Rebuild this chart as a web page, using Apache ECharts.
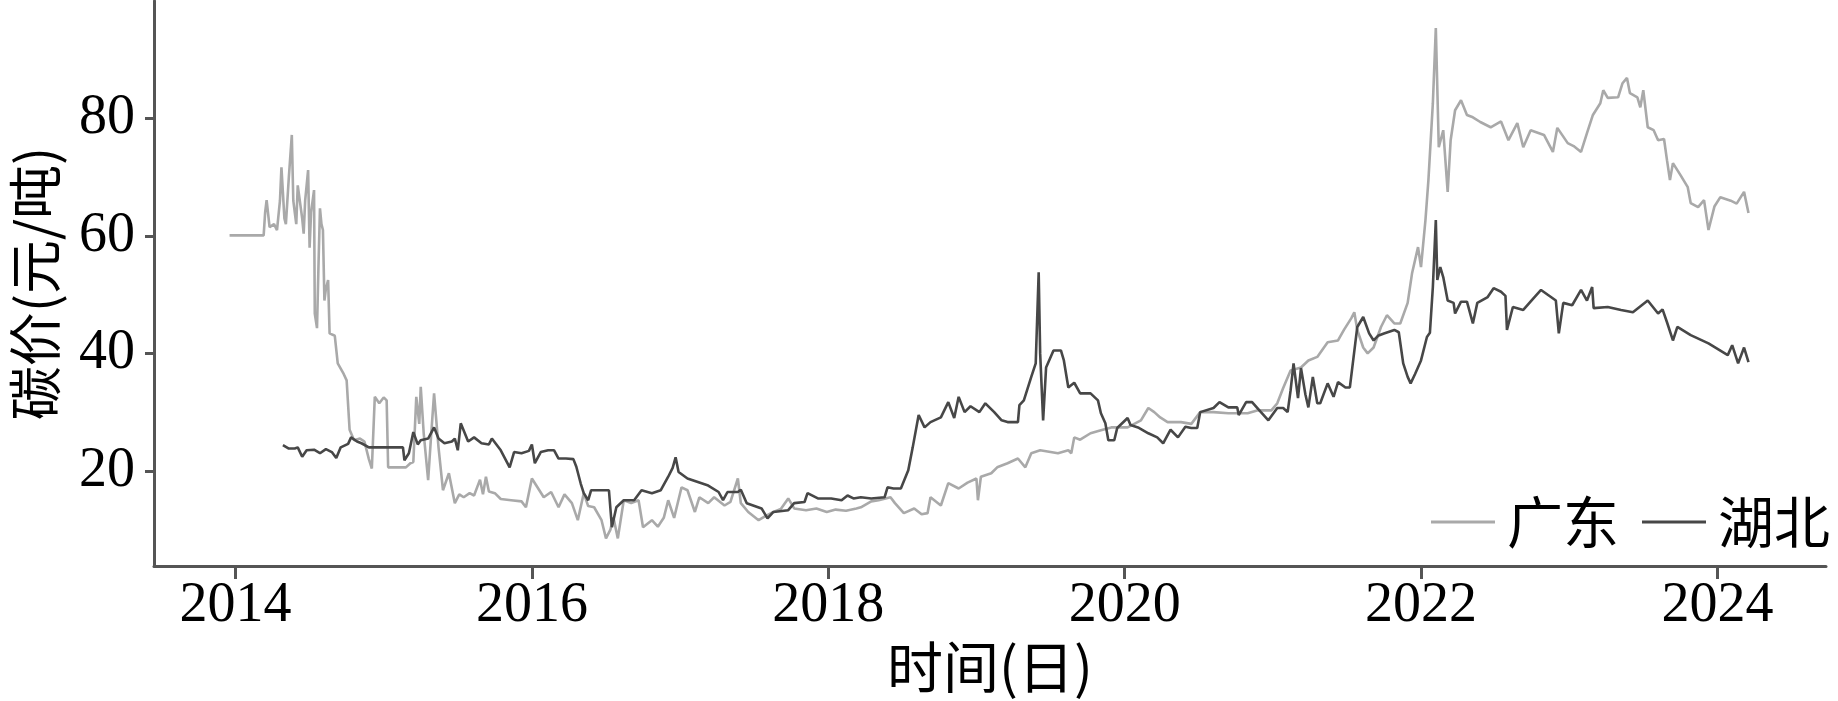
<!DOCTYPE html>
<html>
<head>
<meta charset="utf-8">
<script src="https://cdn.jsdelivr.net/npm/echarts@6/dist/echarts.min.js"></script>
<style>
html,body{margin:0;padding:0;background:#fff;}
#chart{width:1838px;height:701px;}
</style>
</head>
<body>
<div id="chart"></div>
<script>
// x positions are decimal years
const xTicks = [2014, 2016, 2018, 2020, 2022, 2024];
const yTicks = [20, 40, 60, 80];
const seriesNames = ['广东', '湖北'];

const gdTime = [2013.96,2014.19,2014.20,2014.21,2014.23,2014.26,2014.28,2014.30,2014.31,2014.33,2014.34,2014.36,2014.38,2014.39,2014.41,2014.42,2014.45,2014.46,2014.47,2014.49,2014.50,2014.51,2014.53,2014.535,2014.55,2014.56,2014.57,2014.58,2014.59,2014.60,2014.61,2014.625,2014.635,2014.67,2014.69,2014.73,2014.75,2014.77,2014.80,2014.84,2014.87,2014.90,2014.92,2014.94,2014.97,2015.00,2015.02,2015.03,2015.09,2015.15,2015.18,2015.20,2015.22,2015.24,2015.25,2015.27,2015.30,2015.32,2015.34,2015.37,2015.40,2015.44,2015.48,2015.51,2015.54,2015.58,2015.61,2015.65,2015.67,2015.69,2015.71,2015.75,2015.79,2015.86,2015.93,2015.96,2016.00,2016.03,2016.08,2016.13,2016.18,2016.22,2016.27,2016.31,2016.35,2016.38,2016.42,2016.47,2016.50,2016.53,2016.55,2016.58,2016.62,2016.67,2016.72,2016.75,2016.81,2016.85,2016.89,2016.92,2016.96,2017.01,2017.05,2017.10,2017.13,2017.19,2017.23,2017.30,2017.34,2017.39,2017.41,2017.46,2017.53,2017.57,2017.63,2017.68,2017.73,2017.77,2017.85,2017.92,2017.99,2018.05,2018.12,2018.19,2018.22,2018.29,2018.34,2018.42,2018.45,2018.51,2018.58,2018.63,2018.67,2018.69,2018.76,2018.81,2018.88,2018.94,2019.00,2019.01,2019.03,2019.10,2019.14,2019.21,2019.28,2019.33,2019.37,2019.43,2019.55,2019.62,2019.64,2019.66,2019.70,2019.77,2019.84,2019.91,2020.02,2020.11,2020.16,2020.20,2020.24,2020.29,2020.38,2020.45,2020.51,2020.60,2020.70,2020.83,2020.90,2020.99,2021.03,2021.07,2021.12,2021.19,2021.24,2021.30,2021.37,2021.44,2021.48,2021.53,2021.55,2021.57,2021.61,2021.64,2021.68,2021.73,2021.77,2021.82,2021.86,2021.91,2021.94,2021.98,2022.00,2022.03,2022.05,2022.08,2022.10,2022.12,2022.15,2022.18,2022.20,2022.23,2022.27,2022.31,2022.35,2022.40,2022.47,2022.54,2022.59,2022.65,2022.69,2022.74,2022.83,2022.89,2022.92,2022.99,2023.03,2023.08,2023.12,2023.16,2023.21,2023.23,2023.26,2023.33,2023.36,2023.39,2023.41,2023.46,2023.48,2023.50,2023.53,2023.57,2023.60,2023.64,2023.66,2023.68,2023.70,2023.75,2023.80,2023.82,2023.87,2023.91,2023.94,2023.98,2024.02,2024.09,2024.13,2024.18,2024.21];
const gdPrice = [60.1,60.1,64,66.1,61.5,62,61,66,71.7,63,62,70,77.2,66,62,68.6,63,60.4,66,71.2,58,64,67.8,46.8,44.3,55,64.7,62,61,49,51,52.5,43.4,43,38.3,36.5,35.4,27,25.2,25.5,25,22,20.4,32.6,31.5,32.5,32,20.6,20.6,20.6,21.3,21.5,32.6,28,34.3,26.4,18.4,26,33.2,24,16.7,19.6,14.5,16,15.5,16.2,15.8,18.5,16,19,16.5,16.2,15.2,15,14.8,13.8,18.7,17.5,15.5,16.4,13.8,16,14.5,11.6,16.2,14,13.8,11.6,8.5,10,12.1,8.5,15,14.5,15,10.4,11.6,10.5,12,15,12,17.2,16.7,13,15.5,14.5,15.5,14.1,14.7,18.7,14.5,13,11.6,12.2,13,13.5,15.3,13.6,13.3,13.6,13,13.4,13.2,13.6,13.8,14.8,15,15.5,14.5,12.8,13.6,12.6,12.8,15.5,14.1,17.9,17,18,18.7,15,19,19.6,20.6,21.3,22.1,20.6,23,23.5,23,23.5,23,25.7,25.3,26.4,26.9,27.4,27.4,28.6,30.7,30,29.1,28.3,28.3,28,30,30,29.8,29.8,30.3,30.3,31.5,34.1,37.1,37.6,38.8,39.4,41.9,42.2,44,46,47,44,41,40,41,44.5,46.5,45.1,45.1,48.6,53.7,58.1,54.7,62.7,69.5,82.6,95.4,75.1,78,67.5,76.3,81.4,83.1,80.6,80.2,79.4,78.5,79.5,76.3,79.2,75.1,78,77.2,74.3,78.4,75.8,75.3,74.3,77.5,80.6,82.6,84.8,83.5,83.6,86,86.9,84.3,83.6,81.9,84.8,78.5,78,76.3,76.5,72.9,69.5,72.4,70.4,68.3,65.6,64.9,66.1,61,65,66.6,66,65.5,67.5,63.9];

const hbTime = [2014.32,2014.36,2014.40,2014.42,2014.45,2014.48,2014.53,2014.57,2014.61,2014.65,2014.68,2014.71,2014.76,2014.78,2014.82,2014.85,2014.90,2014.98,2015.09,2015.13,2015.14,2015.17,2015.20,2015.23,2015.25,2015.30,2015.34,2015.37,2015.41,2015.46,2015.48,2015.50,2015.52,2015.57,2015.61,2015.66,2015.71,2015.73,2015.79,2015.85,2015.88,2015.93,2015.98,2016.00,2016.02,2016.06,2016.11,2016.15,2016.18,2016.23,2016.28,2016.30,2016.33,2016.35,2016.38,2016.40,2016.47,2016.52,2016.54,2016.57,2016.62,2016.69,2016.74,2016.81,2016.87,2016.92,2016.95,2016.97,2016.99,2017.05,2017.12,2017.19,2017.26,2017.29,2017.32,2017.39,2017.41,2017.45,2017.55,2017.59,2017.63,2017.73,2017.77,2017.84,2017.86,2017.93,2018.02,2018.09,2018.13,2018.17,2018.22,2018.29,2018.38,2018.40,2018.44,2018.49,2018.54,2018.57,2018.61,2018.65,2018.69,2018.76,2018.81,2018.85,2018.88,2018.92,2018.96,2019.02,2019.06,2019.12,2019.17,2019.21,2019.28,2019.29,2019.32,2019.37,2019.40,2019.42,2019.43,2019.45,2019.47,2019.52,2019.57,2019.59,2019.62,2019.66,2019.70,2019.77,2019.82,2019.84,2019.87,2019.89,2019.93,2019.95,2020.02,2020.04,2020.09,2020.16,2020.22,2020.26,2020.31,2020.36,2020.41,2020.45,2020.49,2020.51,2020.60,2020.64,2020.70,2020.76,2020.77,2020.82,2020.86,2020.92,2020.97,2021.03,2021.07,2021.10,2021.12,2021.14,2021.17,2021.19,2021.22,2021.24,2021.27,2021.30,2021.32,2021.37,2021.41,2021.44,2021.49,2021.52,2021.57,2021.61,2021.65,2021.68,2021.71,2021.75,2021.82,2021.85,2021.88,2021.91,2021.93,2021.96,2022.00,2022.04,2022.06,2022.08,2022.10,2022.11,2022.13,2022.15,2022.18,2022.22,2022.23,2022.27,2022.31,2022.35,2022.38,2022.45,2022.49,2022.54,2022.57,2022.58,2022.62,2022.69,2022.76,2022.81,2022.86,2022.91,2022.93,2022.96,2023.02,2023.08,2023.12,2023.155,2023.165,2023.26,2023.35,2023.43,2023.53,2023.60,2023.63,2023.66,2023.70,2023.73,2023.82,2023.94,2024.07,2024.10,2024.14,2024.18,2024.21];
const hbPrice = [24.4,23.8,23.8,24,22.4,23.5,23.6,23,23.7,23.2,22.2,24,24.6,25.7,25,24.7,24,24,24,24,21.8,23,26.6,24.5,25.2,25.5,27.4,25.5,24.7,25,25.5,23.5,28.1,25,25.7,24.7,24.5,25.5,23.5,20.6,23.2,23,23.4,24.5,21.3,23.2,23.5,23.5,22.1,22.1,22,20.7,17.8,16.2,15,16.7,16.7,16.7,10.4,13.8,15,15,16.7,16.2,16.7,19,20.5,22.3,19.8,18.7,18.1,17.5,16.4,15,16.4,16.4,16.8,14.5,13.6,11.9,13,13.3,14.5,14.7,16.2,15.3,15.3,15,15.8,15.3,15.5,15.3,15.5,17.2,17,17,20.1,24,29.5,27.4,28.3,29.1,31.7,29,32.6,30,31,30,31.5,30,28.6,28.3,28.3,31.2,32,36,38.3,53.8,40,28.6,37.6,40.5,40.5,38.8,34.2,35,33.2,33.2,32,29.8,28.1,25.2,25.2,27.3,29,27.8,27.4,26.4,25.7,24.7,27,25.7,27.5,27.3,27.3,30,30.7,31.7,30.8,30.8,29.5,31.7,31.7,30,28.6,30.7,30.7,30,33.7,38.3,32.4,37.5,33,30.8,36,31.5,31.5,34.9,32.6,35.1,34.2,34.2,44.5,46.2,43.4,42.2,43,43.4,44,43.6,38.3,36,34.9,36.5,38.8,42.8,43.5,51.3,62.7,52.5,54.7,53,49,48.6,46.8,48.8,48.8,45.1,48.6,49.6,51.1,50.5,49.8,44,47.9,47.4,49.4,50.8,49.9,49,43.4,48.6,48.2,50.8,49,51.3,47.7,47.9,47.4,47,49,46.8,47.5,45.3,42.2,44.5,43.1,41.7,39.7,41.4,38.3,41,38.5];

const zip = (xs, ys) => xs.map((x, i) => [x, ys[i]]);

const chart = echarts.init(document.getElementById('chart'), null, {renderer: 'canvas'});
const serif = 'Liberation Serif';
const cjk = 'Noto Sans CJK SC';
const axisColor = '#555555';
const gdColor = '#a9a9a9';
const hbColor = '#474747';

chart.setOption({
  animation: false,
  backgroundColor: '#ffffff',
  grid: {left: 152.5, right: 12, top: 1, bottom: 135, containLabel: false},
  legend: {
    data: [{name: seriesNames[0], icon: 'rect', itemStyle: {color: gdColor}},
           {name: seriesNames[1], icon: 'rect', itemStyle: {color: hbColor}}],
    right: 8, top: 494, padding: 0,
    itemWidth: 64, itemHeight: 3, itemGap: 23,
    textStyle: {fontFamily: cjk, fontSize: 56, color: '#000', padding: [0, 0, 0, 7]}
  },
  xAxis: {
    type: 'value', min: 2013.45, max: 2024.733,
    name: '时间(日)', nameLocation: 'middle', nameGap: 66,
    nameTextStyle: {fontFamily: cjk, fontSize: 56, color: '#000'},
    axisLine: {lineStyle: {color: axisColor, width: 3}},
    axisTick: {show: true, length: 13, lineStyle: {color: axisColor, width: 3}, customValues: xTicks},
    axisLabel: {fontFamily: serif, fontSize: 56, color: '#000', margin: 12, customValues: xTicks, formatter: v => String(v)},
    splitLine: {show: false}
  },
  yAxis: {
    type: 'value', min: 3.8, max: 100,
    name: '碳价(元/吨)', nameLocation: 'middle', nameGap: 92,
    nameTextStyle: {fontFamily: cjk, fontSize: 54, color: '#000'},
    axisLine: {show: true, lineStyle: {color: axisColor, width: 3}},
    axisTick: {show: true, length: 9, lineStyle: {color: axisColor, width: 3}, customValues: yTicks},
    axisLabel: {fontFamily: serif, fontSize: 56, color: '#000', margin: 19, customValues: yTicks},
    splitLine: {show: false}
  },
  series: [
    {name: seriesNames[0], type: 'line', data: zip(gdTime, gdPrice), symbol: 'none', showSymbol: false,
     lineStyle: {color: gdColor, width: 2.6}, itemStyle: {color: gdColor}},
    {name: seriesNames[1], type: 'line', data: zip(hbTime, hbPrice), symbol: 'none', showSymbol: false,
     lineStyle: {color: hbColor, width: 2.6}, itemStyle: {color: hbColor}}
  ]
});
</script>
</body>
</html>
